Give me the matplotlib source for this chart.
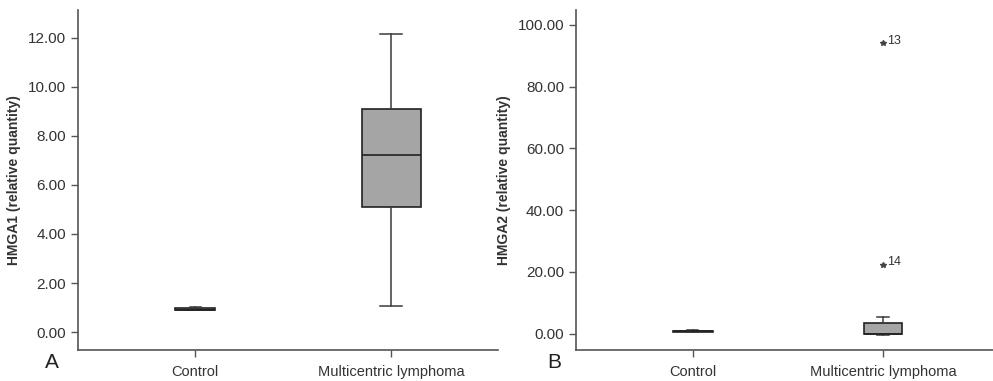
import numpy as np
import matplotlib
matplotlib.use("Agg")
import matplotlib.pyplot as plt

groups = ["Control", "Multicentric lymphoma"]

# panel A: HMGA1 box stats (whislo, q1, med, q3, whishi)
hmga1_lo = [0.90, 1.06]
hmga1_q1 = [0.88, 5.10]
hmga1_med = [0.92, 7.20]
hmga1_q3 = [0.97, 9.09]
hmga1_hi = [1.02, 12.16]

# panel B: HMGA2 box stats
hmga2_lo = [0.5, -0.3]
hmga2_q1 = [0.45, 0.0]
hmga2_med = [0.7, -0.2]
hmga2_q3 = [0.95, 3.6]
hmga2_hi = [1.3, 5.5]
hmga2_outliers = [94.0, 22.2]
hmga2_outlier_ids = ["13", "14"]

text_col = "#333333"
line_col = "#3a3a3a"
box_fill = "#a5a5a5"

plt.rcParams['font.family'] = ['Liberation Sans', 'DejaVu Sans']


def make_stats(lo, q1, med, q3, hi):
    stats = []
    for i in range(len(lo)):
        stats.append({"whislo": lo[i], "q1": q1[i], "med": med[i],
                      "q3": q3[i], "whishi": hi[i], "fliers": []})
    return stats


def style_axes(ax):
    for s in ["top", "right"]:
        ax.spines[s].set_visible(False)
    for s in ["left", "bottom"]:
        ax.spines[s].set_color("#555555")
        ax.spines[s].set_linewidth(1.2)
    ax.tick_params(axis="y", colors="#555555", labelcolor=text_col,
                   labelsize=11, length=5, width=1)
    ax.tick_params(axis="x", colors="#555555", labelcolor=text_col,
                   labelsize=10.5, length=5, width=1, pad=11)
    for lab in ax.get_xticklabels():
        lab.set_va("center")


fig = plt.figure(figsize=(9.93, 3.81), dpi=100)
axA = fig.add_axes([0.0785, 0.0814, 0.423, 0.893])
axB = fig.add_axes([0.580, 0.0814, 0.420, 0.893])

# panel A
statsA = make_stats(hmga1_lo, hmga1_q1, hmga1_med, hmga1_q3, hmga1_hi)
axA.bxp(statsA, positions=[1, 2], widths=[0.204, 0.30], patch_artist=True,
        showfliers=False,
        boxprops=dict(facecolor=box_fill, edgecolor="#222222", linewidth=1.2),
        medianprops=dict(color="#222222", linewidth=1.2),
        whiskerprops=dict(color=line_col, linewidth=1.1),
        capprops=dict(color=line_col, linewidth=1.1),
        capwidths=[0.056, 0.112])
axA.set_xlim(0.402, 2.545)
axA.set_ylim(-0.73, 13.14)
axA.set_yticks(np.arange(0, 13, 2))
axA.set_yticklabels([f"{v:.2f}" for v in np.arange(0, 13, 2)])
axA.set_xticks([1, 2])
axA.set_xticklabels(groups)
axA.set_ylabel("HMGA1 (relative quantity)", fontweight="bold",
               color=text_col, fontsize=10, labelpad=5)
style_axes(axA)

# panel B
statsB = make_stats(hmga2_lo, hmga2_q1, hmga2_med, hmga2_q3, hmga2_hi)
axB.bxp(statsB, positions=[1, 2], widths=[0.21, 0.20], patch_artist=True,
        showfliers=False,
        boxprops=dict(facecolor=box_fill, edgecolor="#222222", linewidth=1.2),
        medianprops=dict(color="#222222", linewidth=1.2),
        whiskerprops=dict(color=line_col, linewidth=1.1),
        capprops=dict(color=line_col, linewidth=1.1),
        capwidths=[0.06, 0.06])
axB.plot([2, 2], hmga2_outliers, ls="none", marker="*", ms=4,
         color="#444444")
for val, lab in zip(hmga2_outliers, hmga2_outlier_ids):
    axB.annotate(lab, (2, val), xytext=(3, 2), textcoords="offset points",
                 fontsize=9, color=text_col, va="center")
axB.set_xlim(0.387, 2.578)
axB.set_ylim(-5.3, 104.9)
axB.set_yticks(np.arange(0, 101, 20))
axB.set_yticklabels([f"{v:.2f}" for v in np.arange(0, 101, 20)])
axB.set_xticks([1, 2])
axB.set_xticklabels(groups)
axB.set_ylabel("HMGA2 (relative quantity)", fontweight="bold",
               color=text_col, fontsize=10, labelpad=5)
style_axes(axB)

fig.text(52 / 993, 1 - 362 / 381, "A", fontsize=15, color="#222222",
         ha="center", va="center")
fig.text(554 / 993, 1 - 362 / 381, "B", fontsize=15, color="#222222",
         ha="center", va="center")

fig.savefig("out.png", dpi=100)
